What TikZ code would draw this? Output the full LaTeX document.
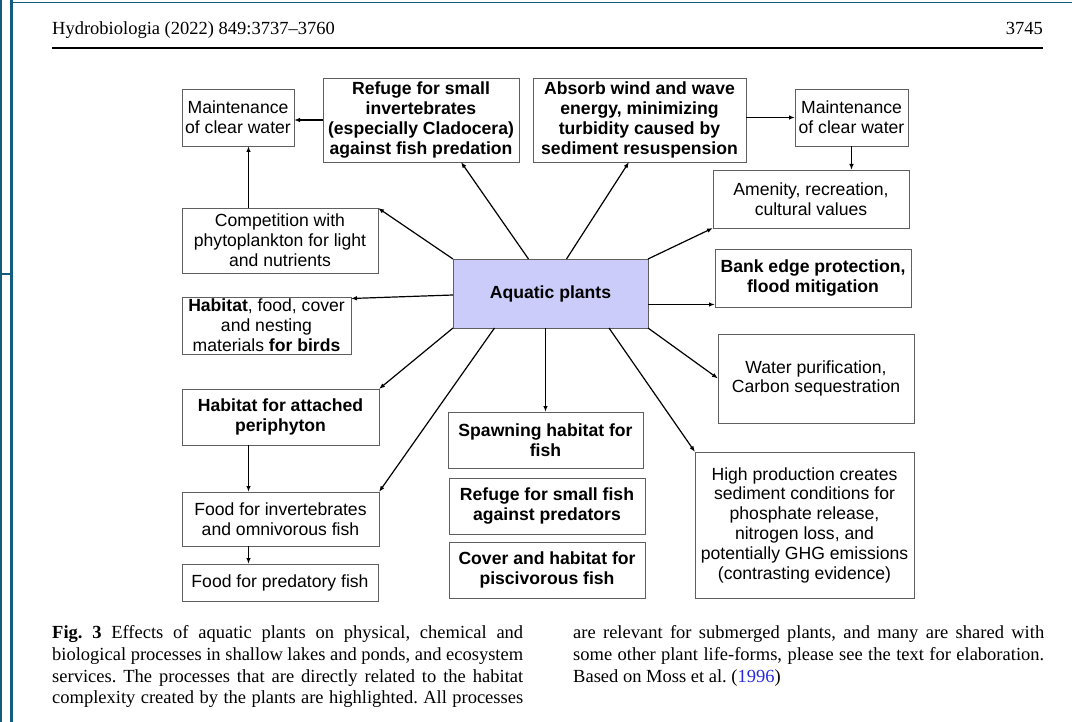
\documentclass[tikz,border=0pt]{standalone}
\usepackage{fontspec}
\setmainfont{Liberation Serif}
\setsansfont{Liberation Sans}
\usetikzlibrary{arrows.meta}
\definecolor{framecol}{RGB}{18,92,126}
\definecolor{plantfill}{RGB}{204,204,250}
\definecolor{boxline}{RGB}{95,95,95}
\definecolor{linkblue}{RGB}{40,40,225}

\begin{document}
\begin{tikzpicture}[x=1pt,y=-1pt,
  proc/.style={draw=boxline, line width=0.9pt, inner sep=0pt, outer sep=0pt, align=center,
    font=\sffamily\fontsize{17.6}{19.8}\selectfont},
  hab/.style={proc, font=\sffamily\bfseries\fontsize{17.6}{19.8}\selectfont},
  effect/.style={draw, line width=1.2pt, -{Latex[length=6pt,width=4.5pt]}},
  caption/.style={inner sep=0pt, text width=471pt, align=justify,
    font=\fontsize{18.5}{21.7}\selectfont\frenchspacing}]

\useasboundingbox (0,0) rectangle (1072,722);

%screen frame round the page
\draw[framecol, line width=1.5pt] (0.8,0) -- (0.8,722);
\draw[framecol, line width=2.5pt] (11.3,0) -- (11.3,722);
\draw[framecol, line width=1.5pt] (11.3,2.5) -- (1072,2.5);
\draw[framecol, line width=1.5pt] (0,274) -- (11.3,274);

%running head
\node[anchor=base west, inner sep=0pt, font=\fontsize{18.5}{22}\selectfont] (journal) at (52,35) {Hydrobiologia (2022) 849:3737–3760};
\node[anchor=base east, inner sep=0pt, font=\fontsize{18.5}{22}\selectfont] (pageno) at (1043,35) {3745};
\draw[line width=1.3pt] (52,48) -- (1043,48);

%the boxes
\node[proc, minimum width=112, minimum height=57] (clearL) at (238,117.5) {Maintenance\\of clear water};
\node[hab, minimum width=196, minimum height=84] (refugeInv) at (421,120) {Refuge for small\\invertebrates\\(especially Cladocera)\\against fish predation};
\node[hab, minimum width=213, minimum height=84] (absorb) at (639.5,120) {Absorb wind and wave\\energy, minimizing\\turbidity caused by\\sediment resuspension};
\node[proc, minimum width=113, minimum height=57] (clearR) at (851.5,117.5) {Maintenance\\of clear water};
\node[proc, minimum width=196, minimum height=58] (amenity) at (811,199) {Amenity, recreation,\\cultural values};
\node[proc, minimum width=196, minimum height=65] (compete) at (280,240.5) {Competition with\\phytoplankton for light\\and nutrients};
\node[hab, fill=plantfill, minimum width=195, minimum height=69] (plants) at (550.5,293.5) {Aquatic plants};
\node[proc, minimum width=169, minimum height=57] (birds) at (266.5,325.5) {\textbf{Habitat}, food, cover\\and nesting\\materials \textbf{for birds}};
\node[hab, minimum width=196, minimum height=58] (bank) at (813,278) {Bank edge protection,\\flood mitigation};
\node[proc, minimum width=196, minimum height=89] (purify) at (816,378.5) {Water purification,\\Carbon sequestration};
\node[hab, minimum width=197, minimum height=56] (periphyton) at (280.5,417) {Habitat for attached\\periphyton};
\node[hab, minimum width=195, minimum height=56] (spawning) at (545.5,440) {Spawning habitat for\\fish};
\node[proc, minimum width=219, minimum height=146] (sediment) at (804.5,525) {High production creates\\sediment conditions for\\phosphate release,\\nitrogen loss, and\\potentially GHG emissions\\(contrasting evidence)};
\node[proc, minimum width=197, minimum height=54] (foodInv) at (280.5,519) {Food for invertebrates\\and omnivorous fish};
\node[hab, minimum width=196, minimum height=56] (refugeFish) at (547,506) {Refuge for small fish\\against predators};
\node[proc, minimum width=196, minimum height=37] (foodPred) at (280,582.5) {Food for predatory fish};
\node[hab, minimum width=196, minimum height=56] (cover) at (547,570) {Cover and habitat for\\piscivorous fish};

%arrows out of the plants
\draw[effect] (plants.north west) -- (compete.north east);
\draw[effect] ([xshift=-22pt]plants.north) -- ([xshift=40pt]refugeInv.south);
\draw[effect] ([xshift=16pt]plants.north) -- ([xshift=-10.5pt]absorb.south);
\draw[effect] (plants.north east) -- (amenity.south west);
\draw[effect] ([yshift=-1.5pt]plants.west) -- ([yshift=-1.5pt]birds.north east);
\draw[effect] ([yshift=-11pt]plants.east) -- ([yshift=-11pt]plants.east -| bank.west);
\draw[effect] (plants.south east) -- (purify.west);
\draw[effect] ([xshift=58.5pt]plants.south) -- (sediment.north west);
\draw[effect] (spawning.north |- plants.south) -- (spawning.north);
\draw[effect] ([xshift=-56pt]plants.south) -- (foodInv.north east);
\draw[effect] (plants.south west) -- (periphyton.north east);

%chains of effects
\draw[effect] (refugeInv.west) -- (refugeInv.west -| clearL.east);
\draw[effect] ([xshift=-31.5pt]compete.north) -- ([xshift=-31.5pt]compete.north |- clearL.south);
\draw[effect] (absorb.east |- clearR.west) -- (clearR.west);
\draw[effect] (clearR.south) -- (clearR.south |- amenity.north);
\draw[effect] ([xshift=-32pt]periphyton.south) -- ([xshift=-32pt]periphyton.south |- foodInv.north);
\draw[effect] ([xshift=-32pt]foodInv.south) -- ([xshift=-32pt]foodInv.south |- foodPred.north);

%caption in two columns
\node[caption, anchor=north west] (capL) at (52,625.5) {\parfillskip=0pt \hyphenpenalty=10000 \tolerance=9999 \textbf{Fig.~3} Effects of aquatic plants on physical, chemical and\linebreak biological processes in shallow lakes and ponds, and ecosystem\linebreak services. The processes that are directly related to the habitat\linebreak complexity created by the plants are highlighted. All processes\par};
\node[caption, anchor=north west] (capR) at (573,625.5) {\hyphenpenalty=10000 \tolerance=9999 are relevant for submerged plants, and many are shared with\linebreak some other plant life-forms, please see the text for elaboration.\linebreak Based on Moss et al. (\textcolor{linkblue}{1996})\par};

\end{tikzpicture}
\end{document}
